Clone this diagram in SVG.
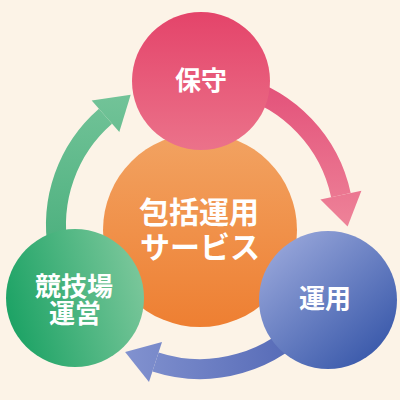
<svg xmlns="http://www.w3.org/2000/svg" width="400" height="400" viewBox="0 0 400 400">
<defs>
<linearGradient id="gPinkC" x1="0" y1="0" x2="0" y2="1"><stop offset="0" stop-color="#e4446a"/><stop offset="1" stop-color="#eb728a"/></linearGradient>
<linearGradient id="gPinkA" gradientUnits="userSpaceOnUse" x1="0" y1="85" x2="0" y2="228"><stop offset="0" stop-color="#e3527a"/><stop offset="1" stop-color="#ee8399"/></linearGradient>
<linearGradient id="gOrange" x1="0" y1="0" x2="0" y2="1"><stop offset="0" stop-color="#f2a362"/><stop offset="1" stop-color="#ee7f32"/></linearGradient>
<linearGradient id="gGreenC" x1="0" y1="0.65" x2="1" y2="0.35"><stop offset="0" stop-color="#1ba264"/><stop offset="1" stop-color="#7bc79b"/></linearGradient>
<linearGradient id="gGreenA" gradientUnits="userSpaceOnUse" x1="0" y1="95" x2="0" y2="250"><stop offset="0" stop-color="#72c398"/><stop offset="1" stop-color="#4cb07e"/></linearGradient>
<linearGradient id="gBlueC" x1="0.15" y1="0.1" x2="0.85" y2="0.9"><stop offset="0" stop-color="#94a3d8"/><stop offset="1" stop-color="#3b5aab"/></linearGradient>
<linearGradient id="gBlueA" gradientUnits="userSpaceOnUse" x1="120" y1="0" x2="312" y2="0"><stop offset="0" stop-color="#8393d0"/><stop offset="1" stop-color="#5166b4"/></linearGradient>
</defs>
<style>
.lbl{font-family:"Noto Sans CJK JP","Noto Sans CJK SC",sans-serif;font-weight:bold;fill:#ffffff;text-anchor:middle}
.band{fill:none;stroke-width:20}
</style>
<rect width="400" height="400" fill="#fcf3e7"/>
<g id="connectors">
<g id="arrow-hoshu-unyo">
<path class="band" stroke="url(#gPinkA)" d="M 237.3 85.9 A 144 144 0 0 1 340.9 195.1"/>
<polygon fill="url(#gPinkA)" points="361.4,190.7 347.6,226.4 320.4,199.5"/>
</g>
<g id="arrow-unyo-kyogijo">
<path class="band" stroke="url(#gBlueA)" d="M 310.3 317.6 A 144 144 0 0 1 155.5 362"/>
<polygon fill="url(#gBlueA)" points="162,342 125.1,352.1 149,382"/>
</g>
<g id="arrow-kyogijo-hoshu">
<path class="band" stroke="url(#gGreenA)" d="M 58.2 250 A 144 144 0 0 1 105.5 116.3"/>
<polygon fill="url(#gGreenA)" points="91.7,100.5 130.7,94.8 119.3,132.1"/>
</g>
</g>
<g id="node-center">
<circle cx="200" cy="230" r="97" fill="url(#gOrange)"/>
<text class="lbl" font-size="30"><tspan x="199" y="223">包括運用</tspan><tspan x="200" y="258">サービス</tspan></text>
</g>
<g id="node-hoshu">
<circle cx="201" cy="81" r="69" fill="url(#gPinkC)"/>
<text class="lbl" x="201" y="90" font-size="26">保守</text>
</g>
<g id="node-kyogijo">
<circle cx="75" cy="298" r="69" fill="url(#gGreenC)"/>
<text class="lbl" font-size="26"><tspan x="74" y="296">競技場</tspan><tspan x="75" y="323">運営</tspan></text>
</g>
<g id="node-unyo">
<circle cx="328" cy="300" r="69" fill="url(#gBlueC)"/>
<text class="lbl" x="325" y="308" font-size="26">運用</text>
</g>
</svg>
